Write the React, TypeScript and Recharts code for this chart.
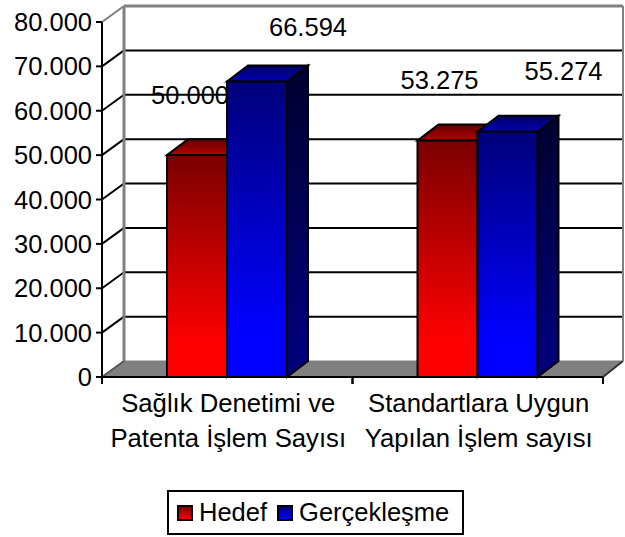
import React from 'react';
import { BarChart, Bar, XAxis, YAxis, CartesianGrid, Legend } from 'recharts';

const categoryLines = [
    ['Sağlık Denetimi ve', 'Patenta İşlem Sayısı'],
    ['Standartlara Uygun', 'Yapılan İşlem sayısı'],
];
const hedefValues = [50000, 53275];
const gerceklesmeValues = [66594, 55274];
const yTicks = [0, 10000, 20000, 30000, 40000, 50000, 60000, 70000, 80000];

const data = categoryLines.map((lines, i) => ({
    name: lines.join(' '),
    hedef: hedefValues[i],
    gerceklesme: gerceklesmeValues[i],
}));

const FONT = '"Liberation Sans", Arial, sans-serif';
const FONT_SIZE = 25.5;
const DEPTH_X = 21;
const DEPTH_Y = 16;
const GREY = '#808080';
const BAND = 250.5;

// value labels sit far off their bars in the original
const hedefLabelShift = [{ dx: -7, dy: -51 }, { dx: -8, dy: -52 }];
const gerceklesmeLabelShift = [{ dx: 51, dy: -45 }, { dx: 56, dy: -52 }];

const fmt = (v: number) => String(v).replace(/\B(?=(\d{3})+(?!\d))/g, '.');

const Bar3D = (props: any) => {
    const { x, y, width, height, index, value, color, shift } = props;
    const v = Array.isArray(value) ? value[1] : value;
    const s = shift[index];
    const top = `${x},${y} ${x + DEPTH_X},${y - DEPTH_Y} ${x + width + DEPTH_X},${y - DEPTH_Y} ${x + width},${y}`;
    const side = `${x + width},${y} ${x + width + DEPTH_X},${y - DEPTH_Y} ${x + width + DEPTH_X},${y + height - DEPTH_Y} ${x + width},${y + height}`;
    return (
        <g>
            <text x={x + width / 2 + s.dx} y={y + s.dy} textAnchor="middle" fontFamily={FONT} fontSize={FONT_SIZE} fill="#000">
                {fmt(v)}
            </text>
            <polygon points={side} fill={`url(#${color}Side)`} stroke="#000" strokeWidth={2} />
            <polygon points={top} fill={`url(#${color}Top)`} stroke="#000" strokeWidth={2} />
            <rect x={x} y={y} width={width} height={height} fill={`url(#${color}Front)`} stroke="#000" strokeWidth={2} />
        </g>
    );
};

// the grid draws the whole 3D box: back wall lines, left wall diagonals and the floor
const GridLine = (props: any) => {
    const { x1, x2, y1, index } = props;
    const isFloor = index === 0 || Math.abs(y1 - 377) < 1;
    const isTop = Math.abs(y1 - 22) < 1;
    const bx1 = x1 + DEPTH_X + 1;
    const bx2 = x2 + DEPTH_X - 1;
    const by = y1 - DEPTH_Y;
    if (isFloor) {
        return (
            <g key={`floor-${index}`}>
                <polygon points={`${x1},${y1} ${bx1},${by} ${bx2},${by} ${x2},${y1}`} fill={GREY} stroke={GREY} strokeWidth={1} />
                <line x1={x1} y1={y1} x2={bx1} y2={by} stroke="#555" strokeWidth={2} />
                <line x1={x2} y1={y1} x2={bx2} y2={by} stroke="#333" strokeWidth={2} />
            </g>
        );
    }
    if (isTop) {
        return (
            <g key={`top-${index}`}>
                <line x1={bx1} y1={by} x2={bx2} y2={by} stroke={GREY} strokeWidth={3} />
                <line x1={x1} y1={y1} x2={bx1} y2={by} stroke={GREY} strokeWidth={2} />
                <line x1={bx1} y1={by} x2={bx1} y2={y1 + 355 - DEPTH_Y} stroke={GREY} strokeWidth={3} />
                <line x1={bx2} y1={by} x2={bx2} y2={y1 + 355 - DEPTH_Y} stroke={GREY} strokeWidth={2} />
            </g>
        );
    }
    return (
        <g key={`line-${index}`}>
            <line x1={bx1} y1={by} x2={bx2} y2={by} stroke="#000" strokeWidth={2} />
            <line x1={x1} y1={y1} x2={bx1} y2={by} stroke="#000" strokeWidth={2} />
        </g>
    );
};

const CategoryTick = (props: any) => {
    const { x, y, index } = props;
    const lines = categoryLines[index];
    const axisY = y - 8; // tick y comes with the default 8px offset
    return (
        <g>
            <line x1={x - BAND / 2} y1={axisY} x2={x - BAND / 2} y2={axisY + 7} stroke="#000" strokeWidth={2} />
            <line x1={x + BAND / 2} y1={axisY} x2={x + BAND / 2} y2={axisY + 7} stroke="#000" strokeWidth={2} />
            {lines.map((line: string, i: number) => (
                <text key={line} x={x + 1} y={axisY + 35 + i * 35} textAnchor="middle" fontFamily={FONT} fontSize={FONT_SIZE + 0.2} fill="#000">
                    {line}
                </text>
            ))}
        </g>
    );
};

const swatches: Record<string, string> = {
    Hedef: 'linear-gradient(#7f0000, #ff0000)',
    'Gerçekleşme': 'linear-gradient(#00007f, #0000ff)',
};

const LegendBox = ({ payload }: any) => (
    <div
        style={{
            display: 'flex',
            alignItems: 'center',
            boxSizing: 'border-box',
            width: 297,
            height: 45,
            border: '2px solid #000',
            background: '#fff',
            paddingLeft: 8,
            fontFamily: FONT,
            fontSize: FONT_SIZE,
            color: '#000',
            whiteSpace: 'nowrap',
        }}
    >
        {(payload || []).map((p: any) => (
            <span key={p.value} style={{ display: 'flex', alignItems: 'center', marginRight: 10 }}>
                <span
                    style={{
                        display: 'inline-block',
                        boxSizing: 'border-box',
                        width: 16,
                        height: 16,
                        border: '2px solid #000',
                        background: swatches[p.value],
                        marginRight: 6,
                    }}
                />
                {p.value}
            </span>
        ))}
    </div>
);

const App = () => (
    <div style={{ position: 'absolute', left: 0, top: 0, background: '#fff' }}>
        <BarChart
            width={625}
            height={537}
            data={data}
            margin={{ top: 22, right: 22, left: 0, bottom: 2 }}
            barSize={60}
            barGap={0}
        >
            <defs>
                <linearGradient id="redFront" x1="0" y1="0" x2="0" y2="1">
                    <stop offset="0%" stopColor="#7a0000" />
                    <stop offset="85%" stopColor="#ff0000" />
                </linearGradient>
                <linearGradient id="redTop" x1="0" y1="0" x2="0" y2="1">
                    <stop offset="0%" stopColor="#600000" />
                    <stop offset="100%" stopColor="#b80000" />
                </linearGradient>
                <linearGradient id="redSide" x1="0" y1="0" x2="0" y2="1">
                    <stop offset="0%" stopColor="#300000" />
                    <stop offset="100%" stopColor="#800000" />
                </linearGradient>
                <linearGradient id="blueFront" x1="0" y1="0" x2="0" y2="1">
                    <stop offset="0%" stopColor="#00007a" />
                    <stop offset="85%" stopColor="#0000ff" />
                </linearGradient>
                <linearGradient id="blueTop" x1="0" y1="0" x2="0" y2="1">
                    <stop offset="0%" stopColor="#000060" />
                    <stop offset="100%" stopColor="#0000b8" />
                </linearGradient>
                <linearGradient id="blueSide" x1="0" y1="0" x2="0" y2="1">
                    <stop offset="0%" stopColor="#000030" />
                    <stop offset="100%" stopColor="#000080" />
                </linearGradient>
            </defs>
            <CartesianGrid vertical={false} horizontal={GridLine as any} />
            <XAxis
                dataKey="name"
                height={113}
                axisLine={{ stroke: '#000', strokeWidth: 2 }}
                tickLine={false}
                tick={CategoryTick as any}
                interval={0}
            />
            <YAxis
                width={102}
                domain={[0, 80000]}
                ticks={yTicks}
                interval={0}
                tickFormatter={fmt}
                axisLine={{ stroke: '#000', strokeWidth: 2 }}
                tickLine={{ stroke: '#000', strokeWidth: 2 }}
                tickSize={6}
                tickMargin={4}
                tick={{ fill: '#000', fontFamily: FONT, fontSize: FONT_SIZE }}
            />
            <Legend
                verticalAlign="bottom"
                content={LegendBox as any}
                itemSorter={null}
                wrapperStyle={{ left: 167, bottom: 2, width: 297, height: 45 }}
            />
            <Bar
                dataKey="hedef"
                name="Hedef"
                fill="#ff0000"
                isAnimationActive={false}
                shape={(p: any) => <Bar3D {...p} color="red" shift={hedefLabelShift} />}
            />
            <Bar
                dataKey="gerceklesme"
                name="Gerçekleşme"
                fill="#0000ff"
                isAnimationActive={false}
                shape={(p: any) => <Bar3D {...p} color="blue" shift={gerceklesmeLabelShift} />}
            />
        </BarChart>
    </div>
);

export default App;
